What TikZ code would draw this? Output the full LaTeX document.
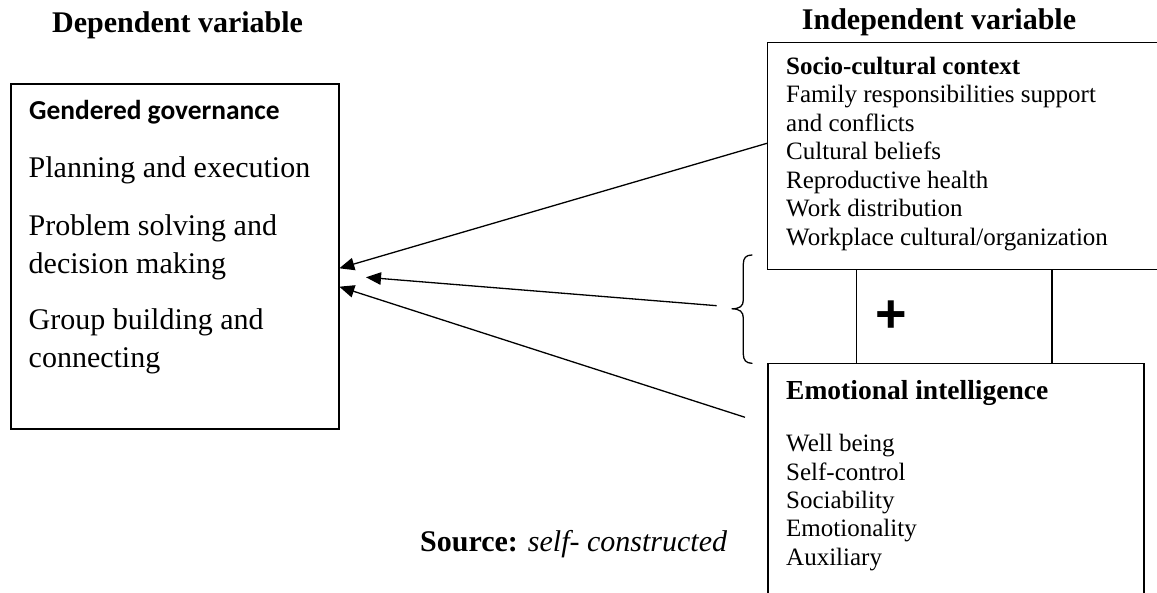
\documentclass[tikz,border=0pt]{standalone}
\usepackage{fontspec}
\setmainfont{Liberation Serif}
\newfontfamily\calib{Carlito}
\newfontfamily\arialf{Liberation Sans}
\usetikzlibrary{arrows.meta}
\begin{document}
\begin{tikzpicture}[x=1pt,y=-1pt,
  box/.style={draw, line width=1.2pt, inner sep=0pt, anchor=north west},
  lbl/.style={anchor=base west, inner sep=0pt},
  big/.style={font=\fontsize{30}{36}\selectfont},
  bigb/.style={font=\bfseries\fontsize{30}{36}\selectfont},
  small/.style={font=\fontsize{25}{28.5}\selectfont},
  smallb/.style={font=\bfseries\fontsize{25}{28.5}\selectfont},
  conn/.style={line width=1.3pt, -{Triangle[length=15pt,width=12.5pt]}},
  bracepath/.style={line width=1.3pt, line cap=round},
]
\useasboundingbox (0,0) rectangle (1157,593);

% titles
\node[lbl, bigb] (tdep) at (52,33) {Dependent variable};
\node[lbl, bigb] (tind) at (801.7,30) {Independent variable};

% boxes
\node[box, line width=1.6pt, minimum width=328.3pt, minimum height=345pt] (dep) at (10,83.3) {};
\node[box, minimum width=400pt, minimum height=227pt] (soc) at (767,41.7) {};
\node[box, minimum width=376pt, minimum height=250pt] (emo) at (767.3,363.3) {};

% connecting column
\coordinate (m1) at (856.7,0);
\coordinate (m2) at (1052,0);
\draw[line width=1.2pt] (soc.south -| m1) -- (emo.north -| m1);
\draw[line width=1.2pt] (soc.south -| m2) -- (emo.north -| m2);
\node[font=\arialf\bfseries\fontsize{54}{54}\selectfont, inner sep=0pt] (plus) at (891.7,316.5) {+};

% left box text
\node[lbl, font=\calib\bfseries\fontsize{27.4}{30}\selectfont] (g0) at (29,120) {Gendered governance};
\node[lbl, big] (g1) at (28.5,177.3) {Planning and execution};
\node[lbl, big] (g2) at (28.5,235.7) {Problem solving and};
\node[lbl, big] (g3) at (28.5,273.3) {decision making};
\node[lbl, big] (g4) at (28.5,330) {Group building and};
\node[lbl, big] (g5) at (28.5,367.7) {connecting};

% socio-cultural box text
\node[lbl, smallb] (s0) at (786,74.3) {Socio-cultural context};
\node[lbl, small] (s1) at (786,102.8) {Family responsibilities support};
\node[lbl, small] (s2) at (786,131.3) {and conflicts};
\node[lbl, small] (s3) at (786,159.8) {Cultural beliefs};
\node[lbl, small] (s4) at (786,188.3) {Reproductive health};
\node[lbl, small] (s5) at (786,216.8) {Work distribution};
\node[lbl, small] (s6) at (786,245.3) {Workplace cultural/organization};

% emotional intelligence box text
\node[lbl, font=\bfseries\fontsize{27.5}{30}\selectfont] (e0) at (786,400) {Emotional intelligence};
\node[lbl, small] (e1) at (786,451.7) {Well being};
\node[lbl, small] (e2) at (786,480) {Self-control};
\node[lbl, small] (e3) at (786,508.3) {Sociability};
\node[lbl, small] (e4) at (786,536.7) {Emotionality};
\node[lbl, small] (e5) at (786,565) {Auxiliary};

% source
\node[lbl, big] (src) at (420,551.7) {\textbf{Source:} \textit{self- constructed}};

% brace
\draw[bracepath] (752,255) .. controls (746,255) and (743.3,258) .. (743.3,264)
  -- (743.3,300) .. controls (743.3,306) and (740,308.8) .. (731.7,308.8)
  .. controls (740,308.8) and (743.3,312) .. (743.3,318)
  -- (743.3,354) .. controls (743.3,360) and (746,363.3) .. (752,363.3);

% arrows
\coordinate (a1s) at (soc.west |- 0,143.3);
\coordinate (a1e) at (339.3,268.3);
\coordinate (a2s) at (716.7,305.7);
\coordinate (a2e) at (366,277.3);
\coordinate (a3s) at (745,417.3);
\coordinate (a3e) at (339.3,286.7);
\draw[conn] (a1s) -- (a1e);
\draw[conn] (a2s) -- (a2e);
\draw[conn] (a3s) -- (a3e);
\end{tikzpicture}
\end{document}
